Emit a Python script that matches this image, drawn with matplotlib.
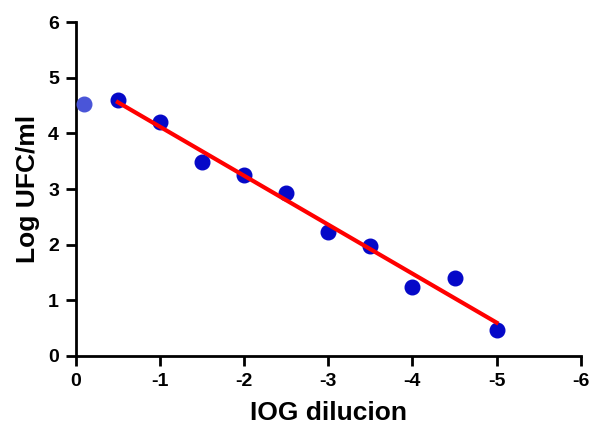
import matplotlib.pyplot as plt
import numpy as np

plt.rcParams['font.family'] = ['Liberation Sans', 'DejaVu Sans']
plt.rcParams['font.weight'] = 'bold'

# diluciones y recuentos (log UFC/ml)
dilucion = [-0.5, -1.0, -1.5, -2.0, -2.5, -3.0, -3.5, -4.0, -4.5, -5.0]
log_ufc = [4.60, 4.21, 3.49, 3.25, 2.92, 2.23, 1.98, 1.24, 1.40, 0.47]
# punto inicial (sin diluir)
dil_0 = [-0.1]
log_0 = [4.52]

fig = plt.figure(figsize=(5.92, 4.32), dpi=100)
ax = fig.add_axes([0.128, 0.176, 0.853, 0.773])

ax.plot(dil_0, log_0, 'o', color='#4a55d8', markersize=10.5, clip_on=False, zorder=3)
ax.plot(dilucion, log_ufc, 'o', color='#0508c8', markersize=10.5, clip_on=False, zorder=3)

# regresion lineal
m, b = np.polyfit(dilucion, log_ufc, 1)
xs = np.array([dilucion[0], dilucion[-1]])
ax.plot(xs, m * xs + b, color='#ff0000', linewidth=3, zorder=4)

ax.set_xlim(0, -6)
ax.set_ylim(0, 6)
ax.set_xticks([0, -1, -2, -3, -4, -5, -6])
ax.set_yticks([0, 1, 2, 3, 4, 5, 6])
ax.set_xticklabels(['0', '-1', '-2', '-3', '-4', '-5', '-6'])

for s in ['top', 'right']:
    ax.spines[s].set_visible(False)
for s in ['left', 'bottom']:
    ax.spines[s].set_linewidth(2)
ax.tick_params(width=2, length=7, labelsize=14, pad=5)

ax.set_xlabel('IOG dilucion', fontsize=19, fontweight='bold', labelpad=8)
ax.set_ylabel('Log UFC/ml', fontsize=19, fontweight='bold', labelpad=6)

fig.savefig('out.png', dpi=100)
